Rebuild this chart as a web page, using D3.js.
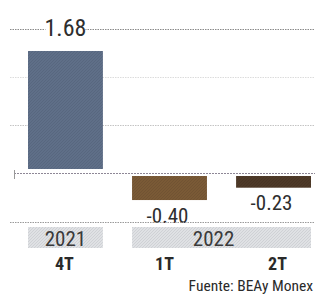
<!DOCTYPE html>
<html><head><meta charset="utf-8">
<script src="https://cdn.jsdelivr.net/npm/d3@7"></script>
<style>
html,body{margin:0;padding:0;background:#fff;}
svg{display:block;}
text{font-family:"Liberation Sans Narrow","Roboto Condensed","Liberation Sans",sans-serif;}
</style></head>
<body>
<svg id="c" width="315" height="294"></svg>
<script>
const categories = ["4T", "1T", "2T"];
const values = [1.68, -0.40, -0.23];
const valueLabels = ["1.68", "-0.40", "-0.23"];
const years = ["2021", "2022"];
const yearSpans = [[0, 0], [1, 2]];
const gridValues = [0.665, 1.32, 1.98];
const barColors = ["#5f6f88", "#7a5a36", "#4e3a28"];
const source = "Fuente: BEAy Monex";

const svg = d3.select("#c");
const x = d3.scaleBand().domain(categories).range([28, 311]).paddingInner(0.28).paddingOuter(0);
const y = d3.scaleLinear().domain([0, 1.68]).range([173, 51]);

const defs = svg.append("defs");
barColors.forEach((c, i) => {
  const p = defs.append("pattern").attr("id", "h" + i).attr("width", 3).attr("height", 3)
    .attr("patternUnits", "userSpaceOnUse");
  p.append("rect").attr("width", 3).attr("height", 3).attr("fill", c);
  p.append("path").attr("d", "M0,3 L3,0").attr("stroke", d3.color(c).darker(0.35)).attr("stroke-width", 0.6);
});
const gp = defs.append("pattern").attr("id", "gband").attr("width", 3).attr("height", 3)
  .attr("patternUnits", "userSpaceOnUse");
gp.append("rect").attr("width", 3).attr("height", 3).attr("fill", "#dfe1e4");
gp.append("path").attr("d", "M0,3 L3,0").attr("stroke", "#c8cace").attr("stroke-width", 0.7);

// gridlines
svg.append("g").selectAll("line").data(gridValues).join("line")
  .attr("x1", 10).attr("x2", 315)
  .attr("y1", d => Math.round(y(d)) + 0.5).attr("y2", d => Math.round(y(d)) + 0.5)
  .attr("stroke", (d, i) => i === 2 ? "#8a8a8a" : (i === 0 ? "#c4c4c4" : "#dcdcdc"))
  .attr("stroke-width", 1)
  .attr("stroke-dasharray", "1.5,1");

// bars
const gapPos = 4, gapNeg = 3;
svg.append("g").selectAll("rect").data(values).join("rect")
  .attr("x", (d, i) => x(categories[i]))
  .attr("width", x.bandwidth())
  .attr("y", d => d >= 0 ? y(d) : y(0) + gapNeg)
  .attr("height", d => d >= 0 ? y(0) - gapPos - y(d) : y(d) - y(0) - gapNeg - 2)
  .attr("fill", (d, i) => "url(#h" + i + ")");

// zero line
svg.append("line").attr("x1", 14).attr("x2", 315)
  .attr("y1", y(0) + 0.5).attr("y2", y(0) + 0.5)
  .attr("stroke", "#8e8796").attr("stroke-width", 1.2).attr("stroke-dasharray", "2,1");
svg.append("line").attr("x1", 14.5).attr("x2", 14.5).attr("y1", y(0) - 3).attr("y2", y(0) + 6)
  .attr("stroke", "#999").attr("stroke-width", 1);

// value labels
const lbl = svg.append("g");
const cx0 = x(categories[0]) + x.bandwidth() / 2;
lbl.append("rect").attr("x", cx0 - 20).attr("y", 18).attr("width", 40).attr("height", 18).attr("fill", "#fff");
lbl.append("text").attr("x", cx0).attr("y", 36).attr("text-anchor", "middle")
  .attr("font-size", 24).attr("fill", "#2e2e2e").text(valueLabels[0]);
[1, 2].forEach(i => {
  lbl.append("text").attr("x", x(categories[i]) + x.bandwidth() / 2 - 2).attr("y", y(values[i]) + 20.5)
    .attr("text-anchor", "middle").attr("font-size", 21).attr("fill", "#2e2e2e").text(valueLabels[i]);
});

// bottom dotted line
svg.append("line").attr("x1", 10).attr("x2", 315).attr("y1", 222.5).attr("y2", 222.5)
  .attr("stroke", "#9a9a9a").attr("stroke-dasharray", "1.5,1");

// year bands
yearSpans.forEach((s, i) => {
  const x0 = x(categories[s[0]]);
  const x1 = x(categories[s[1]]) + x.bandwidth();
  svg.append("rect").attr("x", x0).attr("y", 227).attr("width", x1 - x0).attr("height", 21)
    .attr("fill", "url(#gband)");
  svg.append("text").attr("x", (x0 + x1) / 2 - (i === 1 ? 8 : 0)).attr("y", 246)
    .attr("text-anchor", "middle").attr("font-size", 21).attr("fill", "#3a3a3a").text(years[i]);
});

// category labels
svg.append("g").selectAll("text").data(categories).join("text")
  .attr("x", (d, i) => x(d) + x.bandwidth() / 2 + [-1, -5, 4][i])
  .attr("y", 270).attr("text-anchor", "middle")
  .attr("font-size", 18).attr("font-weight", "bold").attr("fill", "#2a2a2a").text(d => d);

// source
svg.append("text").attr("x", 313).attr("y", 291).attr("text-anchor", "end")
  .attr("font-size", 15.5).attr("fill", "#2a2a2a").text(source);
</script>
</body></html>
